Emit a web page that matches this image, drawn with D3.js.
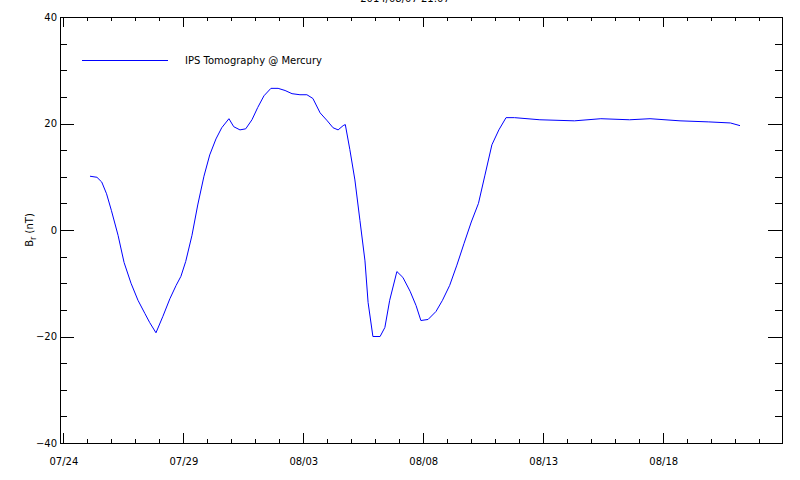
<!DOCTYPE html>
<html>
<head>
<meta charset="utf-8">
<script src="https://cdn.jsdelivr.net/npm/d3@7"></script>
<style>
  body { margin: 0; background: #fff; }
  text { font-family: "DejaVu Sans", sans-serif; font-size: 10px; fill: #000; }
</style>
</head>
<body>
<div id="chart"></div>
<script>
// chart values
const titleText = '2014/08/07 21:07';
const seriesName = 'IPS Tomography @ Mercury';
const startDate = Date.UTC(2014, 6, 24); // 07/24 00 UT

// days since 07/24 and Br in nT
const days = [1.11, 1.4, 1.6, 1.8, 2.0, 2.28, 2.53, 2.82, 3.11, 3.4, 3.6, 3.86,
  4.15, 4.44, 4.7, 4.9, 5.1, 5.36, 5.6, 5.86, 6.1, 6.36, 6.6, 6.9, 7.1, 7.36,
  7.6, 7.86, 8.1, 8.36, 8.65, 8.95, 9.24, 9.53, 9.86, 10.15, 10.4, 10.7, 11.0,
  11.24, 11.45, 11.66, 11.75, 11.94, 12.15, 12.36, 12.57, 12.7, 12.9, 13.2,
  13.4, 13.6, 13.9, 14.15, 14.45, 14.7, 14.9, 15.2, 15.53, 15.8, 16.1, 16.4,
  16.7, 17.0, 17.3, 17.57, 17.86, 18.15, 18.45, 18.8, 19.86, 21.3, 22.4, 23.6,
  24.45, 25.7, 26.9, 27.8, 28.2];
const br = [10.1, 9.9, 9.0, 6.8, 3.7, -1.0, -6.1, -10.0, -13.2, -15.7, -17.4, -19.3,
  -16.2, -12.9, -10.4, -8.7, -5.9, -1.0, 4.7, 10.1, 14.1, 17.1, 19.2, 20.9, 19.4, 18.8,
  19.0, 20.7, 23.0, 25.2, 26.6, 26.6, 26.2, 25.6, 25.4, 25.4, 24.7, 22.0, 20.5,
  19.2, 18.8, 19.6, 19.8, 15.1, 9.4, 1.8, -5.8, -13.6, -20.0, -20.0,
  -18.3, -13.2, -7.8, -8.9, -11.5, -14.2, -17.0, -16.8, -15.3, -13.2, -10.4, -6.6,
  -2.5, 1.5, 5.0, 10.3, 16.0, 18.8, 21.1, 21.1, 20.7, 20.5, 20.9, 20.7,
  20.9, 20.5, 20.3, 20.1, 19.6];

const yMajor = [-40, -20, 0, 20, 40];
const yMinor = [-35, -30, -25, -15, -10, -5, 5, 10, 15, 25, 30, 35];
const xMajorDays = [0, 5, 10, 15, 20, 25];
const xMinorDays = d3.range(0, 30).filter(d => d % 5 !== 0);

const width = 800;
const height = 480;
const margin = {top: 17, right: 18, bottom: 37, left: 60};
const plotW = width - margin.left - margin.right;
const plotH = height - margin.top - margin.bottom;

const dayToDate = d => new Date(startDate + d * 864e5);

const svg = d3.select('#chart').append('svg')
  .attr('width', width)
  .attr('height', height);

const x = d3.scaleUtc()
  .domain([dayToDate(-0.14), dayToDate(29.95)])
  .range([0, plotW]);

const y = d3.scaleLinear()
  .domain([-40, 40])
  .range([plotH, 0]);

const g = svg.append('g')
  .attr('transform', `translate(${margin.left},${margin.top})`);

// title, mostly off the top edge like the original
svg.append('text')
  .attr('x', 405)
  .attr('y', 2)
  .attr('text-anchor', 'middle')
  .text(titleText);

// box
g.append('rect')
  .attr('width', plotW)
  .attr('height', plotH)
  .attr('fill', 'none')
  .attr('stroke', '#000')
  .attr('shape-rendering', 'crispEdges');

const fmt = d3.utcFormat('%m/%d');
function tidy(sel) {
  sel.select('.domain').remove();
  sel.selectAll('line').attr('shape-rendering', 'crispEdges');
}

// bottom axis
g.append('g').attr('transform', `translate(0,${plotH})`)
  .call(d3.axisBottom(x).tickValues(xMajorDays.map(dayToDate)).tickSize(-10).tickPadding(15).tickFormat(fmt))
  .call(tidy)
  .selectAll('text').style('font-family', '"DejaVu Sans", sans-serif').style('font-size', '10px');
g.append('g').attr('transform', `translate(0,${plotH})`)
  .call(d3.axisBottom(x).tickValues(xMinorDays.map(dayToDate)).tickSize(-4).tickFormat(''))
  .call(tidy);

// top axis
g.append('g')
  .call(d3.axisTop(x).tickValues(xMajorDays.map(dayToDate)).tickSize(-10).tickFormat(''))
  .call(tidy);
g.append('g')
  .call(d3.axisTop(x).tickValues(xMinorDays.map(dayToDate)).tickSize(-4).tickFormat(''))
  .call(tidy);

// left axis
g.append('g')
  .call(d3.axisLeft(y).tickValues(yMajor).tickSize(-14).tickPadding(-10).tickFormat(d => d3.format('d')(d).replace('-', '\u2212')))
  .call(tidy)
  .selectAll('text').attr('x', -3).style('font-family', '"DejaVu Sans", sans-serif').style('font-size', '10px');
g.append('g')
  .call(d3.axisLeft(y).tickValues(yMinor).tickSize(-7).tickFormat(''))
  .call(tidy);

// right axis
g.append('g').attr('transform', `translate(${plotW},0)`)
  .call(d3.axisRight(y).tickValues(yMajor).tickSize(-14).tickFormat(''))
  .call(tidy);
g.append('g').attr('transform', `translate(${plotW},0)`)
  .call(d3.axisRight(y).tickValues(yMinor).tickSize(-7).tickFormat(''))
  .call(tidy);

// y title
const yt = svg.append('text')
  .attr('transform', `translate(33,${margin.top + y(0)}) rotate(-90)`)
  .attr('text-anchor', 'middle');
yt.append('tspan').text('B');
yt.append('tspan').attr('dy', 3).attr('font-size', '8px').text('r');
yt.append('tspan').attr('dy', -3).text(' (nT)');

// the series
const line = d3.line()
  .x((d, i) => x(dayToDate(days[i])))
  .y(d => y(d));

g.append('path')
  .datum(br)
  .attr('d', line)
  .attr('fill', 'none')
  .attr('stroke', '#0000ff')
  .attr('stroke-width', 1);

// legend
g.append('line')
  .attr('x1', 22).attr('x2', 108)
  .attr('y1', 43).attr('y2', 43)
  .attr('stroke', '#0000ff')
  .attr('shape-rendering', 'crispEdges');
g.append('text')
  .attr('x', 125)
  .attr('y', 47)
  .text(seriesName);
</script>
</body>
</html>
